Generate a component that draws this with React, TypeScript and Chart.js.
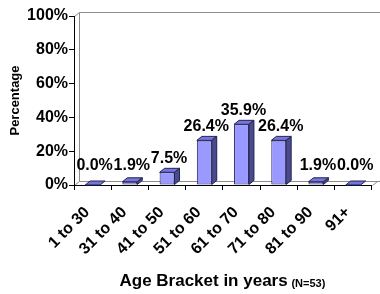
import React, { useEffect, useRef } from "react";
import { Chart, registerables } from "chart.js";

Chart.register(...registerables);

const categories = ["1 to 30", "31 to 40", "41 to 50", "51 to 60", "61 to 70", "71 to 80", "81 to 90", "91+"];
const percentages = [0.0, 1.9, 7.5, 26.4, 35.9, 26.4, 1.9, 0.0];
const yTicks = [0, 20, 40, 60, 80, 100];
const yTitle = "Percentage";
const xTitle = "Age Bracket in years";
const xSubtitle = "(N=53)";

const DX = 5;
const DY = 4;
const FRONT = "#9999FF";
const TOP = "#7575DA";
const SIDE = "#4A4A8C";
const EDGE = "#222255";
const WALL = "#8C8C8C";
const FONT = "'Liberation Sans', Arial, sans-serif";

function poly(ctx: CanvasRenderingContext2D, pts: number[][], fill: string, stroke: string) {
  ctx.beginPath();
  ctx.moveTo(pts[0][0], pts[0][1]);
  for (let i = 1; i < pts.length; i++) ctx.lineTo(pts[i][0], pts[i][1]);
  ctx.closePath();
  ctx.fillStyle = fill;
  ctx.fill();
  ctx.strokeStyle = stroke;
  ctx.lineWidth = 1;
  ctx.stroke();
}

const wallPlugin = {
  id: "walls3d",
  beforeDraw(chart: any) {
    const { ctx, chartArea: a } = chart;
    const L = Math.round(a.left) + 0.5;
    const R = Math.round(a.right) + 0.5;
    const T = Math.round(a.top) + 0.5;
    const B = Math.round(a.bottom) + 0.5;
    ctx.save();
    ctx.lineWidth = 1;
    ctx.strokeStyle = WALL;
    ctx.fillStyle = "#FFFFFF";
    ctx.beginPath();
    ctx.rect(L + DX, T - DY, R - L + 10, B - T);
    ctx.fill();
    ctx.stroke();
    ctx.beginPath();
    ctx.moveTo(L, B);
    ctx.lineTo(L, T);
    ctx.lineTo(L + DX, T - DY);
    ctx.stroke();
    ctx.beginPath();
    ctx.moveTo(L, B);
    ctx.lineTo(L + DX, B - DY);
    ctx.lineTo(R + DX, B - DY);
    ctx.lineTo(R, B);
    ctx.stroke();
    ctx.restore();
  },
};

const barsPlugin = {
  id: "bars3d",
  afterDatasetsDraw(chart: any) {
    const { ctx } = chart;
    const meta = chart.getDatasetMeta(0);
    ctx.save();
    meta.data.forEach((bar: any) => {
      const { x, y, base, width } = bar.getProps(["x", "y", "base", "width"], true);
      const l = x - width / 2;
      const r = x + width / 2;
      poly(ctx, [[l, y], [r, y], [r + DX, y - DY], [l + DX, y - DY]], TOP, EDGE);
      if (base - y > 0.5) {
        poly(ctx, [[r, y], [r + DX, y - DY], [r + DX, base - DY], [r, base]], SIDE, EDGE);
      }
    });
    ctx.fillStyle = "#000";
    ctx.font = `bold 16px ${FONT}`;
    ctx.textAlign = "center";
    ctx.textBaseline = "alphabetic";
    meta.data.forEach((bar: any, i: number) => {
      const { x, y, base } = bar.getProps(["x", "y", "base"], true);
      const ty = Math.min(y - 9, base - 15);
      ctx.fillText(percentages[i].toFixed(1) + "%", x + 2, ty);
    });
    ctx.restore();
  },
};

const titlePlugin = {
  id: "xtitle",
  afterDraw(chart: any) {
    const { ctx, chartArea: a } = chart;
    ctx.save();
    ctx.fillStyle = "#000";
    ctx.textBaseline = "alphabetic";
    ctx.textAlign = "left";
    const f1 = `bold 17px ${FONT}`;
    const f2 = `bold 11px ${FONT}`;
    ctx.font = f1;
    const w1 = ctx.measureText(xTitle + " ").width;
    ctx.font = f2;
    const w2 = ctx.measureText(xSubtitle).width;
    const cx = (a.left + a.right) / 2;
    const x0 = cx - (w1 + w2) / 2;
    const by = a.bottom + 101;
    ctx.font = f1;
    ctx.fillText(xTitle, x0, by);
    ctx.font = f2;
    ctx.fillText(xSubtitle, x0 + w1 - 1, by + 1);
    ctx.restore();
  },
};

export default function App() {
  const ref = useRef<HTMLCanvasElement>(null);
  useEffect(() => {
    if (!ref.current) return;
    const chart = new Chart(ref.current, {
      type: "bar",
      data: {
        labels: categories,
        datasets: [
          {
            data: percentages,
            backgroundColor: FRONT,
            borderColor: EDGE,
            borderWidth: 1,
            borderSkipped: false,
            barPercentage: 0.4,
            categoryPercentage: 1,
          },
        ],
      },
      options: {
        responsive: false,
        animation: false,
        events: [],
        layout: { padding: { top: 16, right: 4, left: 0, bottom: 0 } },
        plugins: { legend: { display: false }, tooltip: { enabled: false }, title: { display: false } },
        scales: {
          x: {
            afterFit: (s: any) => { s.height = 109; },
            grid: { offset: true, drawOnChartArea: false, drawTicks: true, tickLength: 5, color: "#000" },
            border: { color: "#000", width: 1 },
            ticks: {
              autoSkip: false,
              maxRotation: 45,
              minRotation: 45,
              padding: 13,
              labelOffset: -5.5,
              color: "#000",
              font: { family: FONT, weight: "bold", size: 16 },
            },
          },
          y: {
            min: 0,
            max: 100,
            afterFit: (s: any) => { s.width = 74; },
            afterBuildTicks: (s: any) => { s.ticks = yTicks.map((v) => ({ value: v })); },
            grid: { drawOnChartArea: false, drawTicks: true, tickLength: 5, color: "#000" },
            border: { color: "#000", width: 1 },
            title: {
              display: true,
              text: yTitle,
              color: "#000",
              padding: { top: 8, bottom: 0 },
              font: { family: FONT, weight: "bold", size: 13 },
            },
            ticks: {
              padding: 1,
              color: "#000",
              font: { family: FONT, weight: "bold", size: 16 },
              callback: (v: any) => v + "%",
            },
          },
        },
      },
      plugins: [wallPlugin, barsPlugin, titlePlugin],
    });
    return () => chart.destroy();
  }, []);
  return (
    <div style={{ position: "absolute", left: 0, top: 0, width: 380, height: 294, background: "#fff" }}>
      <canvas ref={ref} width={380} height={294} style={{ display: "block" }} />
    </div>
  );
}
